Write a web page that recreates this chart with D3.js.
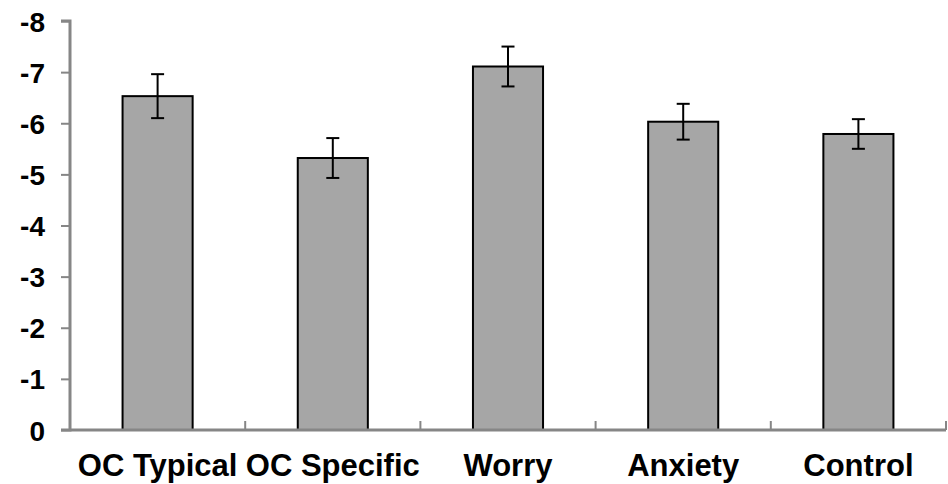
<!DOCTYPE html>
<html><head><meta charset="utf-8">
<script src="https://cdn.jsdelivr.net/npm/d3@7/dist/d3.min.js"></script>
<style>
html,body{margin:0;padding:0;background:#fff;}
text{font-family:"Liberation Sans",Arial,sans-serif;font-weight:bold;fill:#000;}
</style></head>
<body><svg id="c" width="948" height="484"></svg>
<script>
const categories = ["OC Typical","OC Specific","Worry","Anxiety","Control"];
const values = [6.53, 5.32, 7.11, 6.03, 5.79];
const errors = [0.43, 0.39, 0.39, 0.35, 0.29];
const yTicks = [0,1,2,3,4,5,6,7,8];
const yTickLabels = ["0","-1","-2","-3","-4","-5","-6","-7","-8"];

const svg = d3.select("#c");
const L = 70, R = 946, T = 21, B = 430;
const x = d3.scaleBand().domain(categories).range([L, R]).paddingInner(0).paddingOuter(0);
const y = d3.scaleLinear().domain([0, 8]).range([B, T]);
const bw = x.bandwidth() * 0.4;
const axisColor = "#868686";

// bars
svg.selectAll("rect.bar").data(categories).enter().append("rect")
  .attr("x", d => x(d) + (x.bandwidth() - bw) / 2)
  .attr("y", (d,i) => y(values[i]))
  .attr("width", bw)
  .attr("height", (d,i) => y(0) - y(values[i]))
  .attr("fill", "#a6a6a6").attr("stroke", "#000").attr("stroke-width", 2);

// error bars
const eg = svg.append("g").attr("stroke", "#000").attr("stroke-width", 2);
categories.forEach((c, i) => {
  const cx = x(c) + x.bandwidth() / 2;
  const yt = y(values[i] + errors[i]), yb = y(values[i] - errors[i]);
  eg.append("line").attr("x1", cx).attr("x2", cx).attr("y1", yt).attr("y2", yb);
  eg.append("line").attr("x1", cx - 6.5).attr("x2", cx + 6.5).attr("y1", yt).attr("y2", yt);
  eg.append("line").attr("x1", cx - 6.5).attr("x2", cx + 6.5).attr("y1", yb).attr("y2", yb);
});

// y axis
const yAxis = d3.axisLeft(y).tickValues(yTicks).tickSize(9).tickPadding(16)
  .tickFormat((d,i) => yTickLabels[i]);
const gy = svg.append("g").attr("transform", `translate(${L},0)`).call(yAxis);
gy.select(".domain").attr("stroke", axisColor).attr("stroke-width", 3).attr("d", `M-9,${T}H0V${B}H-9`);
gy.selectAll(".tick line").attr("stroke", axisColor).attr("stroke-width", 2);
gy.selectAll(".tick text").style("font-size", "28px").style("font-family", "'Liberation Sans',Arial,sans-serif")
  .style("font-weight", "bold").attr("fill", "#000").attr("dy", "0.36em");

// x axis
const gx = svg.append("g").attr("transform", `translate(0,${B})`);
gx.append("line").attr("x1", L).attr("x2", R).attr("y1", 0).attr("y2", 0)
  .attr("stroke", axisColor).attr("stroke-width", 3);
const bounds = categories.map(c => x(c) + x.bandwidth());
gx.selectAll("line.tk").data(bounds).enter().append("line")
  .attr("x1", d => d).attr("x2", d => d).attr("y1", 0).attr("y2", -9)
  .attr("stroke", axisColor).attr("stroke-width", 2);
gx.selectAll("text").data(categories).enter().append("text")
  .attr("x", d => x(d) + x.bandwidth() / 2).attr("y", 46)
  .attr("text-anchor", "middle").style("font-size", "31px").text(d => d);
</script></body></html>
